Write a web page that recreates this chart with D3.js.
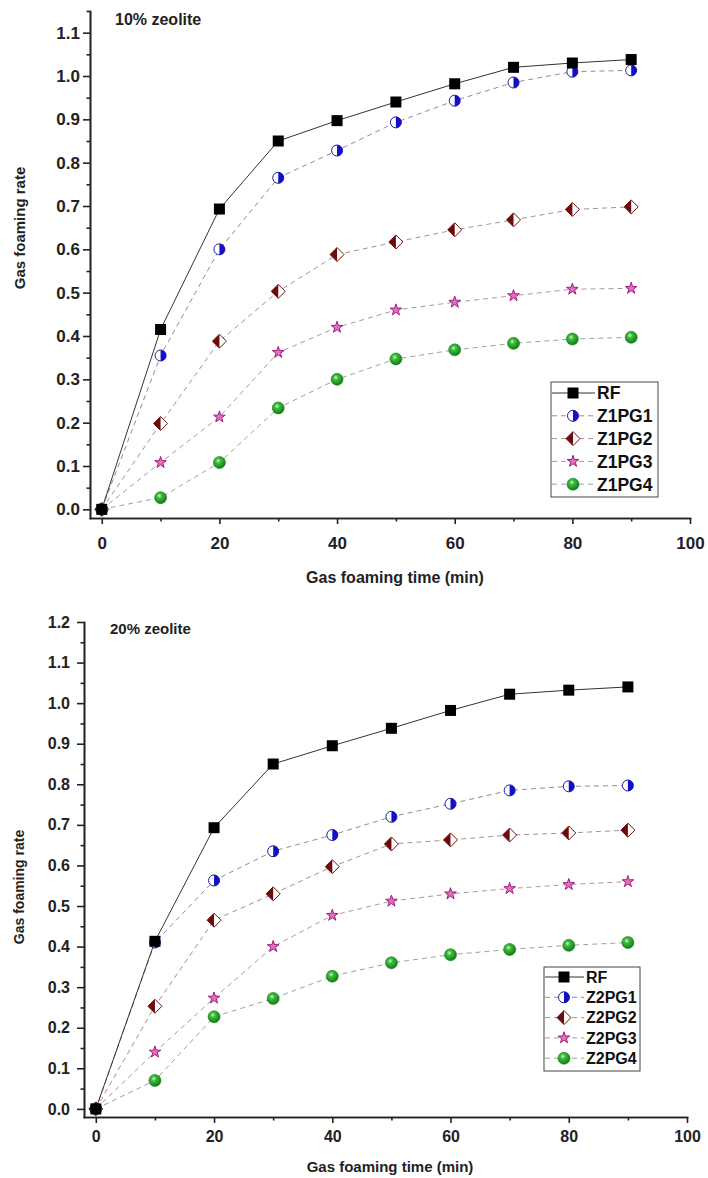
<!DOCTYPE html>
<html>
<head>
<meta charset="utf-8">
<script src="https://cdn.jsdelivr.net/npm/d3@7"></script>
<style>
  body { margin: 0; background: #fff; }
  svg { display: block; font-family: 'Liberation Sans', Arial, sans-serif; }
  .axis path, .axis line { stroke: #222; stroke-width: 1.6; }
  .axis text { font-weight: bold; fill: #222; }
</style>
</head>
<body>
<script>
const times = [0, 10, 20, 30, 40, 50, 60, 70, 80, 90]

// 10% zeolite
const rf = [0, 0.415, 0.693, 0.85, 0.897, 0.94, 0.982, 1.02, 1.03, 1.038]
const z1pg1 = [0, 0.355, 0.6, 0.765, 0.828, 0.893, 0.943, 0.985, 1.01, 1.013]
const z1pg2 = [0, 0.198, 0.388, 0.503, 0.588, 0.617, 0.645, 0.668, 0.692, 0.698]
const z1pg3 = [0, 0.108, 0.213, 0.362, 0.42, 0.46, 0.478, 0.493, 0.508, 0.51]
const z1pg4 = [0, 0.027, 0.108, 0.234, 0.3, 0.347, 0.368, 0.383, 0.393, 0.397]

// 20% zeolite
const rf2 = [0, 0.413, 0.693, 0.85, 0.895, 0.938, 0.982, 1.022, 1.032, 1.04]
const z2pg1 = [0, 0.41, 0.563, 0.635, 0.675, 0.72, 0.752, 0.785, 0.795, 0.797]
const z2pg2 = [0, 0.253, 0.465, 0.53, 0.597, 0.653, 0.663, 0.675, 0.68, 0.687]
const z2pg3 = [0, 0.14, 0.273, 0.4, 0.477, 0.512, 0.53, 0.543, 0.553, 0.56]
const z2pg4 = [0, 0.07, 0.227, 0.272, 0.327, 0.36, 0.38, 0.393, 0.403, 0.41]

const xTicks = [0, 20, 40, 60, 80, 100]
const xMinor = [10, 30, 50, 70, 90]

const svg = d3.select('body').append('svg')
  .attr('width', 708)
  .attr('height', 1178)

const defs = svg.append('defs')
const grad = defs.append('radialGradient')
  .attr('id', 'ball')
  .attr('cx', '40%').attr('cy', '35%').attr('r', '65%')
grad.append('stop').attr('offset', '0%').attr('stop-color', '#d8f5d0')
grad.append('stop').attr('offset', '30%').attr('stop-color', '#3cbf3a')
grad.append('stop').attr('offset', '100%').attr('stop-color', '#137a17')

// marker painters, drawn centred at 0,0
const markers = {
  square (g) {
    g.append('rect').attr('x', -5.5).attr('y', -5.5).attr('width', 11).attr('height', 11)
      .attr('fill', '#000')
  },
  halfCircle (g) {
    g.append('circle').attr('r', 5.5).attr('fill', '#fff').attr('stroke', '#1a1aa0').attr('stroke-width', 1)
    g.append('path').attr('d', 'M0,-5.5 A5.5,5.5 0 0 1 0,5.5 Z').attr('fill', '#1010c8')
  },
  halfDiamond (g) {
    g.append('path').attr('d', 'M0,-7 L7,0 L0,7 L-7,0 Z').attr('fill', '#fff')
      .attr('stroke', '#6e1010').attr('stroke-width', 1)
    g.append('path').attr('d', 'M0,-7 L0,7 L-7,0 Z').attr('fill', '#6e0a0a')
  },
  star (g) {
    g.append('path').attr('d', d3.symbol(d3.symbolStar, 42)())
      .attr('fill', '#e070c0').attr('stroke', '#a01c7c').attr('stroke-width', 1)
  },
  ball (g) {
    g.append('circle').attr('r', 6).attr('fill', 'url(#ball)')
      .attr('stroke', '#167a18').attr('stroke-width', 0.6)
  },
}

function drawPanel (cfg) {
  const x = d3.scaleLinear().domain([-2, 100]).range(cfg.xRange)
  const y = d3.scaleLinear().domain(cfg.yDomain).range(cfg.yRange)
  const g = svg.append('g')

  const yMajor = d3.range(0, cfg.yDomain[1] + 0.001, 0.1)
  const yMinor = d3.range(0.05, cfg.yDomain[1] + 0.001, 0.1)

  // axes
  g.append('g').attr('class', 'axis')
    .attr('transform', `translate(0,${cfg.yRange[0]})`)
    .call(d3.axisBottom(x).tickValues(xMinor).tickSize(3.5).tickSizeOuter(0).tickFormat(''))
  g.append('g').attr('class', 'axis')
    .attr('transform', `translate(0,${cfg.yRange[0]})`)
    .call(d3.axisBottom(x).tickValues(xTicks).tickSize(6).tickSizeOuter(0).tickPadding(cfg.xPad))
    .attr('font-size', cfg.tickFont)
  g.append('g').attr('class', 'axis')
    .attr('transform', `translate(${cfg.xRange[0]},0)`)
    .call(d3.axisLeft(y).tickValues(yMinor).tickSize(3.5).tickSizeOuter(0).tickFormat(''))
  g.append('g').attr('class', 'axis')
    .attr('transform', `translate(${cfg.xRange[0]},0)`)
    .call(d3.axisLeft(y).tickValues(yMajor).tickSize(7).tickSizeOuter(0).tickPadding(cfg.yPad)
      .tickFormat(d3.format('.1f')))
    .attr('font-size', cfg.tickFont)
  g.selectAll('.axis .domain').attr('stroke-linecap', 'square')

  // lines
  const line = d3.line().x((d, i) => x(times[i])).y(d => y(d))
  cfg.series.slice().reverse().forEach(s => {
    g.append('path').datum(s.values)
      .attr('fill', 'none')
      .attr('stroke', s.line)
      .attr('stroke-width', 1)
      .attr('stroke-dasharray', s.dash ? '5,4' : null)
      .attr('d', line)
  })

  // markers
  cfg.series.slice().reverse().forEach(s => {
    g.selectAll(null).data(s.values).enter()
      .append('g')
      .attr('transform', (d, i) => `translate(${x(times[i])},${y(d)})`)
      .each(function () { markers[s.marker](d3.select(this)) })
  })

  // texts
  g.append('text').attr('x', cfg.title[0]).attr('y', cfg.title[1])
    .attr('font-size', cfg.font).attr('font-weight', 'bold').attr('fill', '#222')
    .text(cfg.titleText)
  g.append('text').attr('x', cfg.xTitle[0]).attr('y', cfg.xTitle[1])
    .attr('text-anchor', 'middle').attr('font-size', cfg.font).attr('font-weight', 'bold')
    .attr('fill', '#222').text('Gas foaming time (min)')
  g.append('text')
    .attr('transform', `translate(${cfg.yTitle[0]},${cfg.yTitle[1]}) rotate(-90)`)
    .attr('text-anchor', 'middle').attr('font-size', cfg.font - 1).attr('font-weight', 'bold')
    .attr('fill', '#222').text('Gas foaming rate')

  // legend
  const L = cfg.legend
  g.append('rect').attr('x', L.x).attr('y', L.y).attr('width', L.w).attr('height', L.h)
    .attr('fill', '#fff').attr('stroke', '#444').attr('stroke-width', 1)
  cfg.series.forEach((s, i) => {
    const ry = L.y + L.first + i * L.step
    g.append('line').attr('x1', L.x + 1).attr('x2', L.x + L.sample).attr('y1', ry).attr('y2', ry)
      .attr('stroke', s.line).attr('stroke-width', 1)
      .attr('stroke-dasharray', s.dash ? '5,4' : null)
    markers[s.marker](g.append('g').attr('transform', `translate(${L.x + L.sample / 2},${ry})`))
    g.append('text').attr('x', L.x + L.sample + 2).attr('y', ry).attr('dy', '0.36em')
      .attr('font-size', L.font).attr('font-weight', 'bold').attr('fill', '#111')
      .text(s.name)
  })
}

drawPanel({
  xRange: [90, 690],
  yDomain: [-0.02, 1.15],
  yRange: [518, 11],
  font: 16,
  tickFont: 17,
  xPad: 13,
  yPad: 3,
  titleText: '10% zeolite',
  title: [115, 25],
  xTitle: [395, 583],
  yTitle: [25, 228],
  legend: { x: 551, y: 382, w: 107, h: 115, first: 11, step: 22.8, sample: 44, font: 17.5 },
  series: [
    { name: 'RF', values: rf, marker: 'square', line: '#333', dash: false },
    { name: 'Z1PG1', values: z1pg1, marker: 'halfCircle', line: '#8c8c9c', dash: true },
    { name: 'Z1PG2', values: z1pg2, marker: 'halfDiamond', line: '#a89090', dash: true },
    { name: 'Z1PG3', values: z1pg3, marker: 'star', line: '#a898a4', dash: true },
    { name: 'Z1PG4', values: z1pg4, marker: 'ball', line: '#98a698', dash: true },
  ],
})

drawPanel({
  xRange: [84, 687],
  yDomain: [-0.02, 1.2],
  yRange: [1117, 622],
  font: 15,
  tickFont: 16,
  xPad: 8,
  yPad: 7,
  titleText: '20% zeolite',
  title: [110, 634],
  xTitle: [390, 1172],
  yTitle: [24, 887],
  legend: { x: 544, y: 967, w: 96, h: 104, first: 10, step: 20.3, sample: 40, font: 16 },
  series: [
    { name: 'RF', values: rf2, marker: 'square', line: '#333', dash: false },
    { name: 'Z2PG1', values: z2pg1, marker: 'halfCircle', line: '#8c8c9c', dash: true },
    { name: 'Z2PG2', values: z2pg2, marker: 'halfDiamond', line: '#a89090', dash: true },
    { name: 'Z2PG3', values: z2pg3, marker: 'star', line: '#a898a4', dash: true },
    { name: 'Z2PG4', values: z2pg4, marker: 'ball', line: '#98a698', dash: true },
  ],
})
</script>
</body>
</html>
